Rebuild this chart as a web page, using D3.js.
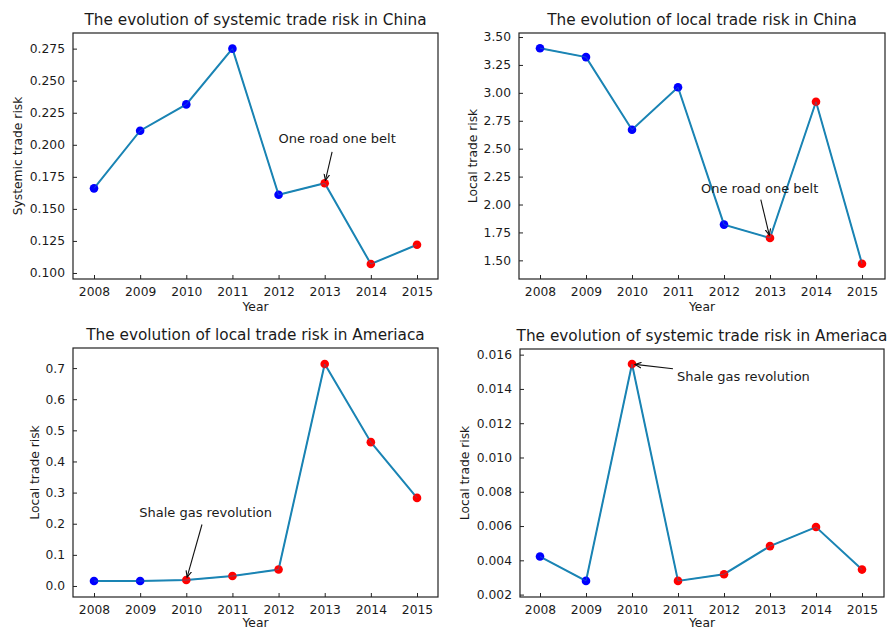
<!DOCTYPE html>
<html>
<head>
<meta charset="utf-8">
<script src="https://cdn.jsdelivr.net/npm/d3@7"></script>
<style>
  html, body { margin: 0; padding: 0; background: #ffffff; }
  svg text { font-family: "DejaVu Sans", sans-serif; fill: #1a1a1a; }
</style>
</head>
<body>
<svg id="chart" width="888" height="631"></svg>
<script>
// Years on the x axis of every panel
const years = [2008, 2009, 2010, 2011, 2012, 2013, 2014, 2015];

// Risk series, one per panel
const chinaSystemic = [0.166, 0.211, 0.2315, 0.275, 0.161, 0.170, 0.107, 0.122];
const chinaLocal    = [3.40, 3.32, 2.67, 3.05, 1.82, 1.70, 2.92, 1.47];
const usLocal       = [0.016, 0.016, 0.019, 0.032, 0.053, 0.713, 0.462, 0.283];
const usSystemic    = [0.00422, 0.0028, 0.01545, 0.0028, 0.00319, 0.00483, 0.00594, 0.00346];

// First year whose marker is drawn in red (the policy / event period)
const chinaEventYear = 2013;
const usEventYear = 2010;

// Y tick values per panel
const ticksChinaSystemic = [0.100, 0.125, 0.150, 0.175, 0.200, 0.225, 0.250, 0.275];
const ticksChinaLocal    = [1.50, 1.75, 2.00, 2.25, 2.50, 2.75, 3.00, 3.25, 3.50];
const ticksUsLocal       = [0.0, 0.1, 0.2, 0.3, 0.4, 0.5, 0.6, 0.7];
const ticksUsSystemic    = [0.002, 0.004, 0.006, 0.008, 0.010, 0.012, 0.014, 0.016];

// Panel titles and axis labels
const titles = [
  "The evolution of systemic trade risk in China",
  "The evolution of local trade risk in China",
  "The evolution of local trade risk in Ameriaca",
  "The evolution of systemic trade risk in Ameriaca"
];
const yLabels = ["Systemic trade risk", "Local trade risk", "Local trade risk", "Local trade risk"];
const xLabel = "Year";
const notes = ["One road one belt", "One road one belt", "Shale gas revolution", "Shale gas revolution"];

const LINE = "#1a84b4";
const BLUE = "#0000ff";
const RED = "#ff0000";

const panels = [
  { values: chinaSystemic, ticks: ticksChinaSystemic, fmt: ".3f", event: chinaEventYear,
    box: { x0: 73, x1: 438, y0: 33, y1: 279 }, xPx: [94, 417], yDom: [0.0953, 0.2872],
    yLabelX: 18, xLabelDy: 32,
    note: { x: 2012.0, y: 0.2015, tail: [2013.16, 0.1945], head: [2013, 0.170] } },
  { values: chinaLocal, ticks: ticksChinaLocal, fmt: ".2f", event: chinaEventYear,
    box: { x0: 519, x1: 885, y0: 33, y1: 279 }, xPx: [540, 862], yDom: [1.333, 3.536],
    yLabelX: 473, xLabelDy: 32,
    note: { x: 2011.5, y: 2.10, tail: [2012.8, 2.043], head: [2013, 1.70] } },
  { values: usLocal, ticks: ticksUsLocal, fmt: ".1f", event: usEventYear,
    box: { x0: 73, x1: 438, y0: 348, y1: 597 }, xPx: [94, 417], yDom: [-0.0354, 0.7645],
    yLabelX: 35, xLabelDy: 30,
    note: { x: 2008.98, y: 0.222, tail: [2010.34, 0.1975], head: [2010, 0.019] } },
  { values: usSystemic, ticks: ticksUsSystemic, fmt: ".3f", event: usEventYear,
    box: { x0: 520, x1: 884, y0: 349, y1: 597 }, xPx: [540, 862], yDom: [0.00186, 0.01633],
    yLabelX: 465, xLabelDy: 30,
    note: { x: 2010.98, y: 0.01448, tail: [2010.89, 0.01518], head: [2010, 0.01545] } }
];

const svg = d3.select("#chart");
svg.append("defs").append("marker")
  .attr("id", "arrowhead")
  .attr("viewBox", "0 0 10 10")
  .attr("refX", 9).attr("refY", 5)
  .attr("markerWidth", 7).attr("markerHeight", 7)
  .attr("markerUnits", "userSpaceOnUse")
  .attr("orient", "auto")
  .append("path")
  .attr("d", "M0,1 L9,5 L0,9")
  .attr("fill", "none")
  .attr("stroke", "#111")
  .attr("stroke-width", 1.6);

panels.forEach((p, i) => {
  const b = p.box;
  const g = svg.append("g");

  const x = d3.scaleLinear().domain([years[0], years[years.length - 1]]).range(p.xPx);
  const y = d3.scaleLinear().domain(p.yDom).range([b.y1, b.y0]);

  // Frame
  g.append("rect")
    .attr("x", b.x0).attr("y", b.y0)
    .attr("width", b.x1 - b.x0).attr("height", b.y1 - b.y0)
    .attr("fill", "none").attr("stroke", "#222").attr("stroke-width", 1.2);

  // Axes with inward ticks
  const xAxis = d3.axisBottom(x).tickValues(years).tickFormat(d3.format("d"))
    .tickSizeInner(-4).tickSizeOuter(0).tickPadding(8);
  const gx = g.append("g").attr("transform", `translate(0,${b.y1})`).call(xAxis);
  gx.select(".domain").remove();
  gx.selectAll("line").attr("stroke", "#222");
  gx.selectAll("text").attr("font-size", 12.3).style("font-family", "DejaVu Sans, sans-serif")
    .attr("fill", "#1a1a1a");

  const yAxis = d3.axisLeft(y).tickValues(p.ticks).tickFormat(d3.format(p.fmt))
    .tickSizeInner(-4).tickSizeOuter(0).tickPadding(8);
  const gy = g.append("g").attr("transform", `translate(${b.x0},0)`).call(yAxis);
  gy.select(".domain").remove();
  gy.selectAll("line").attr("stroke", "#222");
  gy.selectAll("text").attr("font-size", 12.3).style("font-family", "DejaVu Sans, sans-serif")
    .attr("fill", "#1a1a1a");

  // Titles and labels
  g.append("text")
    .attr("x", (b.x0 + b.x1) / 2).attr("y", b.y0 - 8)
    .attr("text-anchor", "middle").attr("font-size", 15.3)
    .text(titles[i]);
  g.append("text")
    .attr("x", (b.x0 + b.x1) / 2).attr("y", b.y1 + p.xLabelDy)
    .attr("text-anchor", "middle").attr("font-size", 12.3)
    .text(xLabel);
  g.append("text")
    .attr("transform", `translate(${p.yLabelX},${(b.y0 + b.y1) / 2}) rotate(-90)`)
    .attr("text-anchor", "middle").attr("dy", "0.35em").attr("font-size", 12.3)
    .text(yLabels[i]);

  const pts = years.map((yr, k) => ({ yr, v: p.values[k] }));

  // Series line
  g.append("path")
    .datum(pts)
    .attr("d", d3.line().x(d => x(d.yr)).y(d => y(d.v)))
    .attr("fill", "none").attr("stroke", LINE).attr("stroke-width", 2);

  // Markers: blue before the event year, red from it onward
  g.selectAll("circle.pt").data(pts).join("circle")
    .attr("class", "pt")
    .attr("cx", d => x(d.yr)).attr("cy", d => y(d.v))
    .attr("r", 4.3)
    .attr("fill", d => d.yr >= p.event ? RED : BLUE);

  // Line passes over the markers as a thin stroke
  g.append("path")
    .datum(pts)
    .attr("d", d3.line().x(d => x(d.yr)).y(d => y(d.v)))
    .attr("fill", "none").attr("stroke", LINE).attr("stroke-width", 1).attr("stroke-opacity", 0.5);

  // Annotation with arrow
  const n = p.note;
  const tx = x(n.tail[0]), ty = y(n.tail[1]);
  const hx0 = x(n.head[0]), hy0 = y(n.head[1]);
  const dx = hx0 - tx, dy = hy0 - ty, len = Math.hypot(dx, dy);
  const shrink = 3;
  g.append("line")
    .attr("x1", tx).attr("y1", ty)
    .attr("x2", hx0 - dx / len * shrink).attr("y2", hy0 - dy / len * shrink)
    .attr("stroke", "#111").attr("stroke-width", 1.1)
    .attr("marker-end", "url(#arrowhead)");
  g.append("text")
    .attr("x", x(n.x)).attr("y", y(n.y))
    .attr("font-size", 13)
    .text(notes[i]);
});
</script>
</body>
</html>
